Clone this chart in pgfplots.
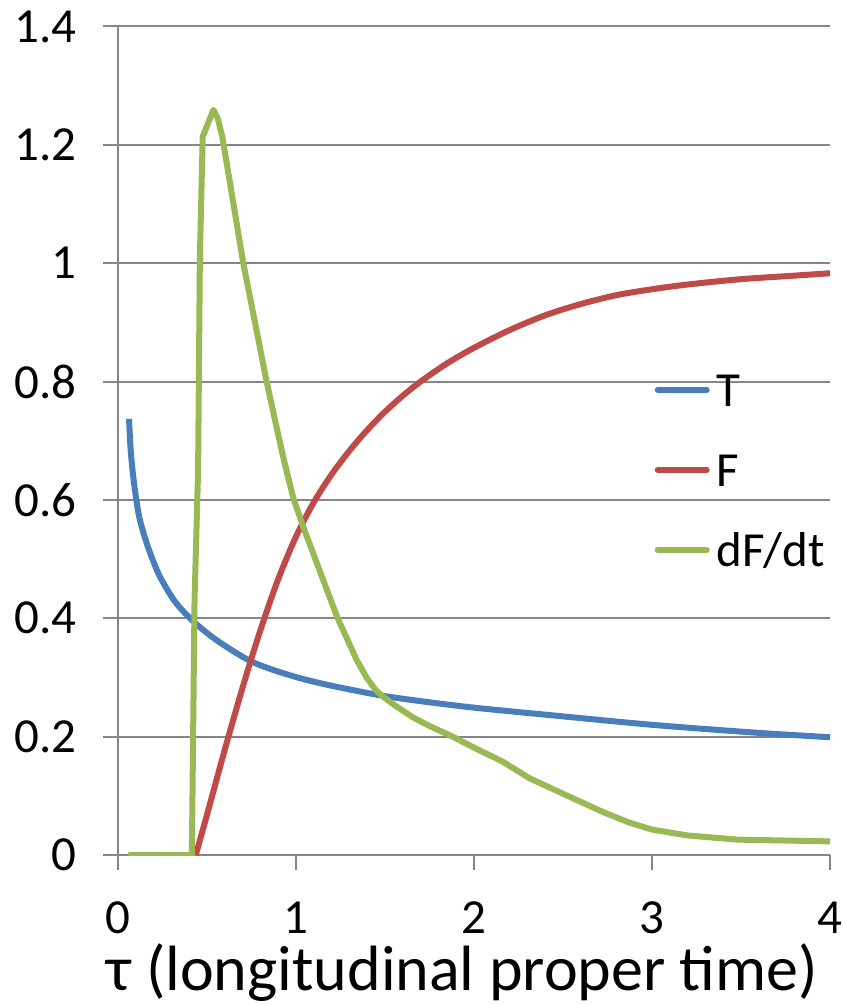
\documentclass[border=0pt]{standalone}
\usepackage{fontspec}
\setmainfont{Carlito}
\usepackage{pgfplots}
\pgfplotsset{compat=1.18}
\definecolor{cT}{HTML}{4A7EBB}
\definecolor{cF}{HTML}{BE4B48}
\definecolor{cD}{HTML}{98B954}
\definecolor{gridgray}{HTML}{868686}
\begin{document}
\begin{tikzpicture}
\useasboundingbox (-118bp,-150bp) rectangle (725bp,855bp);
\begin{axis}[
  at={(0,0)}, anchor=south west,
  scale only axis, width=712bp, height=828.5bp,
  xmin=0, xmax=4, ymin=0, ymax=1.4,
  axis x line=bottom, axis y line=left,
  axis line style={gridgray, line width=2bp, -},
  xtick={0,1,2,3,4}, ytick={0,0.2,0.4,0.6,0.8,1,1.2,1.4},
  yticklabels={0,0.2,0.4,0.6,0.8,1,1.2,1.4},
  tick align=outside, major tick length=15bp,
  tick style={gridgray, line width=2bp},
  ymajorgrids, grid style={gridgray, line width=2bp},
  /pgf/number format/assume math mode=true,
  ticklabel style={font=\fontsize{49bp}{58bp}\selectfont, inner sep=0pt, text=black},
  yticklabel style={anchor=east, xshift=-26bp},
  xticklabel style={anchor=north, yshift=-32bp, text height=31bp, text depth=0bp},
  xlabel={τ (longitudinal proper time)},
  xlabel style={at={(axis description cs:0.484,0)}, anchor=base, yshift=-135bp,
    font=\fontsize{64bp}{72bp}\selectfont, inner sep=0pt},
  legend style={draw=none, fill=none, inner sep=0pt, outer sep=0pt,
    at={(axis description cs:0.7496,0.582)}, anchor=north west,
    row sep=46bp, column sep=4bp,
    nodes={inner sep=0pt, text height=34bp, text depth=0bp,
      font=\fontsize{49bp}{58bp}\selectfont}},
  legend cell align=left,
  legend image code/.code={\path (0bp,0bp) (55bp,0bp);
    \draw[#1, line cap=round] (3bp,0bp) -- (52bp,0bp);},
  every axis plot/.append style={line width=6bp, line join=round, no markers},
]
\addplot[cT, smooth, tension=0.5] coordinates {
(0.062,0.737) (0.07,0.69) (0.08,0.655) (0.096,0.615) (0.12,0.57)
(0.161,0.527) (0.20,0.495) (0.236,0.470) (0.30,0.437) (0.348,0.418)
(0.433,0.392) (0.554,0.363) (0.723,0.331) (0.85,0.315) (1.02,0.299)
(1.2,0.286) (1.47,0.270) (1.70,0.260) (2.0,0.249) (2.44,0.236)
(3.0,0.220) (3.57,0.207) (4.0,0.199)
};
\addlegendentry{T}
\addplot[cF, smooth, tension=0.5] coordinates {
(0.437,0) (0.5,0.068) (0.6,0.178) (0.7,0.283) (0.8,0.38) (0.9,0.466)
(1.0,0.538) (1.1,0.596) (1.2,0.643) (1.3,0.683) (1.4,0.718) (1.5,0.749)
(1.6,0.776) (1.7,0.80) (1.85,0.831) (2.0,0.857) (2.2,0.887) (2.4,0.912)
(2.6,0.931) (2.8,0.946) (3.0,0.956) (3.2,0.964) (3.5,0.973) (3.8,0.979)
(4.0,0.983)
};
\addlegendentry{F}
\addplot[cD] coordinates {
(0.058,0) (0.415,0) (0.43,0.43) (0.45,0.65) (0.46,1.01) (0.476,1.214)
(0.536,1.259) (0.56,1.245) (0.585,1.215) (0.61,1.17) (0.704,1.0) (0.835,0.80)
(0.882,0.735) (0.93,0.67) (0.985,0.603) (1.04,0.555) (1.125,0.487)
(1.23,0.403) (1.34,0.33) (1.40,0.298) (1.45,0.278) (1.50,0.265) (1.55,0.254)
(1.60,0.244) (1.66,0.232) (1.75,0.218) (1.88,0.2) (2.03,0.177) (2.16,0.158)
(2.31,0.13) (2.54,0.098) (2.73,0.072) (2.87,0.055) (3.0,0.043) (3.2,0.033)
(3.48,0.026) (4.0,0.023)
};
\addlegendentry{dF/dt}
\end{axis}
\end{tikzpicture}
\end{document}
